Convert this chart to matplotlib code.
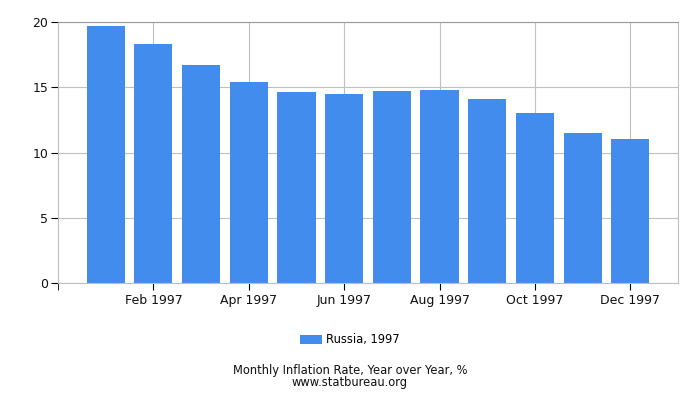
import matplotlib
matplotlib.use("Agg")
import matplotlib.pyplot as plt
from matplotlib.patches import Patch

months = ["Jan 1997", "Feb 1997", "Mar 1997", "Apr 1997", "May 1997", "Jun 1997",
          "Jul 1997", "Aug 1997", "Sep 1997", "Oct 1997", "Nov 1997", "Dec 1997"]
values = [19.7, 18.3, 16.7, 15.4, 14.6, 14.5, 14.7, 14.8, 14.1, 13.0, 11.5, 11.0]
tick_labels = ["Feb 1997", "Apr 1997", "Jun 1997", "Aug 1997", "Oct 1997", "Dec 1997"]
series_label = "Russia, 1997"
title = "Monthly Inflation Rate, Year over Year, %"
source = "www.statbureau.org"

plt.rcParams['font.family'] = ['DejaVu Sans']
bar_color = "#428CEE"
grid_color = "#C0C0C0"

fig = plt.figure(figsize=(7, 4), dpi=100)
ax = fig.add_axes([58/700, 1-283/400, (678-58)/700, (283-22)/400])

x = list(range(len(months)))
ax.bar(x, values, width=0.8, color=bar_color, zorder=2)

tick_pos = [months.index(t) for t in tick_labels]
ax.set_xlim(-1, len(months))
ax.set_ylim(0, 20)
ax.set_yticks([0, 5, 10, 15, 20])
ax.set_xticks(tick_pos)
ax.set_xticklabels(tick_labels)
ax.set_xticks([-1], minor=True)
ax.tick_params(axis='x', which='minor', length=5, color='black')
ax.tick_params(axis='both', which='major', labelsize=9, length=5, color='black', labelcolor='#111111')
ax.tick_params(axis='x', pad=3)
ax.tick_params(axis='y', pad=2)

ax.grid(True, which='major', color=grid_color, linewidth=0.8, zorder=0)
ax.set_axisbelow(True)
for side in ['left', 'bottom', 'right']:
    ax.spines[side].set_color(grid_color)
ax.spines['top'].set_color('#999999')

fig.legend(handles=[Patch(facecolor=bar_color, label=series_label)],
           loc='center', bbox_to_anchor=(0.5, 1-340/400), frameon=False,
           fontsize=8.3, handlelength=1.9, handleheight=0.7, handletextpad=0.4)

fig.text(0.5, 1-376.5/400, title + "\n" + source, ha='center', va='center',
         fontsize=8.3, color='#111111', linespacing=0.9)

fig.savefig("out.png", dpi=100)
